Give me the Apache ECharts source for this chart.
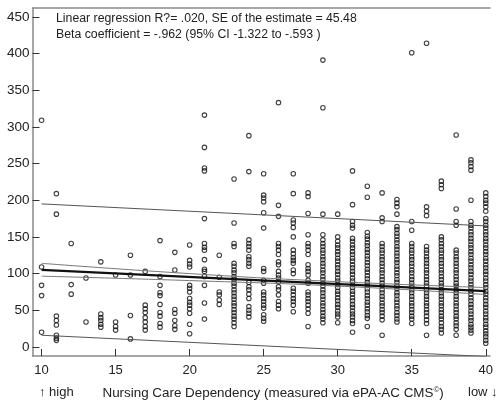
<!DOCTYPE html>
<html><head><meta charset="utf-8">
<script src="https://cdn.jsdelivr.net/npm/echarts@6/dist/echarts.min.js"></script>
<style>html,body{margin:0;padding:0;background:#fff}#c{width:496px;height:401px}</style>
</head><body><div id="c"></div>
<script>
// Observed values per nursing-care-dependency score (x)
const c10 = [309, 109, 84, 70, 20];
const c11 = [209, 181, 42, 36, 30, 16, 12, 9];
const c12 = [141, 85, 72];
const c13 = [94, 34];
const c14 = [116, 45, 40, 36, 31, 27];
const c15 = [98, 34, 28, 23];
const c16 = [125, 98, 43, 11];
const c17 = [103, 57, 52, 47, 40, 34, 28, 23];
const c18 = [145, 96, 84, 74, 70, 58, 47, 42, 32, 27];
const c19 = [129, 105, 51, 46, 36, 29, 24];
const c20 = [139, 118, 113, 109, 84, 80, 75, 66, 61, 57, 52, 46, 31, 18];
const c21 = [316, 272, 244, 240, 175, 141, 136, 132, 119, 106, 103, 96, 84, 60, 38];
const c22 = [125, 95, 75, 71, 64, 58];
const c23 = [229, 169, 141, 137, 114, 110, 105, 101, 96, 92, 87, 83, 78, 74, 69, 65, 60, 56, 51, 47, 42, 38, 33, 28];
const c24 = [288, 239, 146, 141, 137, 132, 123, 119, 114, 110, 88, 82, 78, 72, 66, 55, 50, 46, 41];
const c25 = [236, 207, 203, 198, 183, 162, 107, 103, 91, 87, 75, 71, 66, 62, 57, 53, 44, 39, 35];
const c26 = [333, 193, 178, 141, 137, 132, 126, 116, 112, 103, 98, 94, 89, 82, 78, 71, 62, 57, 52];
const c27 = [236, 209, 173, 169, 163, 150, 132, 127, 122, 118, 114, 105, 100, 80, 76, 71, 66, 62, 57, 48];
const c28 = [210, 205, 182, 153, 141, 137, 132, 126, 112, 107, 103, 98, 91, 87, 75, 71, 66, 62, 57, 52, 46, 28];
const c29 = [391, 326, 181, 153, 146, 141, 137, 132, 128, 123, 119, 114, 110, 105, 101, 96, 92, 87, 83, 78, 74, 69, 65, 60, 56, 51, 47, 42, 38, 33];
const c30 = [181, 150, 144, 139, 135, 130, 126, 121, 117, 112, 108, 103, 99, 94, 90, 85, 81, 76, 72, 67, 63, 58, 54, 49, 45, 41, 33];
const c31 = [240, 194, 171, 166, 162, 148, 144, 139, 135, 130, 126, 121, 117, 112, 108, 103, 99, 94, 90, 85, 81, 76, 72, 67, 63, 58, 54, 49, 45, 41, 36, 32, 20];
const c32 = [219, 204, 156, 151, 147, 142, 138, 133, 129, 124, 120, 115, 111, 106, 102, 97, 93, 88, 84, 79, 75, 70, 66, 61, 57, 52, 48, 43, 39, 28];
const c33 = [210, 176, 171, 141, 137, 132, 128, 123, 119, 114, 110, 105, 101, 96, 92, 87, 83, 78, 74, 69, 65, 60, 56, 51, 47, 42, 37, 16];
const c34 = [201, 196, 191, 181, 164, 160, 155, 151, 146, 142, 137, 133, 128, 124, 119, 115, 110, 106, 101, 97, 92, 88, 83, 79, 74, 70, 65, 61, 56, 52, 47, 43, 38, 34];
const c35 = [401, 171, 159, 141, 137, 132, 128, 123, 119, 114, 110, 105, 101, 96, 92, 87, 83, 78, 74, 69, 65, 60, 56, 51, 47, 42, 38, 32];
const c36 = [414, 191, 185, 179, 137, 132, 128, 123, 119, 114, 110, 105, 101, 96, 92, 87, 83, 78, 74, 69, 65, 60, 56, 51, 47, 42, 37, 32, 16];
const c37 = [226, 221, 216, 150, 146, 141, 137, 132, 128, 123, 119, 114, 110, 105, 101, 96, 92, 87, 83, 78, 74, 69, 65, 60, 56, 51, 47, 42, 38, 33, 28, 24, 19];
const c38 = [289, 188, 171, 166, 132, 128, 123, 119, 114, 110, 105, 101, 96, 92, 87, 83, 78, 74, 69, 65, 60, 56, 51, 47, 42, 38, 33, 29, 24, 16];
const c39 = [255, 251, 246, 241, 200, 171, 166, 162, 157, 153, 148, 144, 139, 135, 130, 126, 121, 117, 112, 108, 103, 99, 94, 90, 85, 81, 76, 72, 67, 63, 58, 54, 49, 45, 40, 36, 31, 27, 23, 19];
const c40 = [210, 205, 200, 196, 191, 185, 175, 171, 166, 162, 157, 153, 148, 144, 139, 135, 130, 126, 121, 117, 112, 108, 103, 99, 94, 90, 85, 81, 76, 72, 67, 63, 58, 54, 49, 45, 40, 36, 31, 27, 22, 18, 14, 9, 5];

const xScores = [10,11,12,13,14,15,16,17,18,19,20,21,22,23,24,25,26,27,28,29,30,31,32,33,34,35,36,37,38,39,40];
const columns = [c10,c11,c12,c13,c14,c15,c16,c17,c18,c19,c20,c21,c22,c23,c24,c25,c26,c27,c28,c29,c30,c31,c32,c33,c34,c35,c36,c37,c38,c39,c40];

// Regression line, 95% CI of mean and prediction interval
const fitLine = [[10, 105], [40, 76]];
const ciUpper = [[10, 114], [20, 100], [30, 89], [40, 81]];
const ciLower = [[10, 96.5], [20, 90.5], [30, 83], [40, 71.5]];
const piUpper = [[10, 195], [40, 165]];
const piLower = [[10, 16], [40, -13]];

const xTicks = [10, 15, 20, 25, 30, 35, 40];
const yTicks = [0, 50, 100, 150, 200, 250, 300, 350, 400, 450];

const points = [];
xScores.forEach((x, i) => columns[i].forEach(v => points.push([x, v])));

const FONT = 'Liberation Sans, Arial, sans-serif';
const X_MIN = 9.387, X_MAX = 40.287;
const chart = echarts.init(document.getElementById('c'), null, {renderer: 'canvas'});
chart.setOption({
  animation: false,
  backgroundColor: '#fff',
  grid: {left: 32.5, top: 8, right: 0, height: 348, show: false},
  xAxis: [{
    type: 'value', min: X_MIN, max: X_MAX,
    axisLine: {show: true, onZero: false, lineStyle: {color: '#8a8a8a', width: 1.5}},
    axisTick: {show: true, inside: true, length: 7, customValues: xTicks, lineStyle: {color: '#333', width: 1}},
    axisLabel: {customValues: xTicks, color: '#222', fontSize: 13, fontFamily: FONT, margin: 8},
    splitLine: {show: false}
  }, {
    type: 'value', position: 'top', min: X_MIN, max: X_MAX,
    axisLine: {show: true, onZero: false, lineStyle: {color: '#8a8a8a', width: 1.5}},
    axisTick: {show: false}, axisLabel: {show: false}, splitLine: {show: false}
  }],
  yAxis: {
    type: 'value', min: -12.3, max: 462,
    axisLine: {show: true, onZero: false, lineStyle: {color: '#8a8a8a', width: 1.5}},
    axisTick: {show: true, inside: true, length: 7, customValues: yTicks, lineStyle: {color: '#333', width: 1}},
    axisLabel: {customValues: yTicks, color: '#222', fontSize: 13.5, fontFamily: FONT, margin: 3},
    splitLine: {show: false}
  },
  series: [
    {type: 'scatter', data: points, symbol: 'circle', symbolSize: 4.5,
     itemStyle: {color: 'rgba(0,0,0,0)', borderColor: '#111', borderWidth: 1.1}, z: 2},
    {type: 'line', data: piUpper, showSymbol: false, lineStyle: {color: '#555', width: 1}, z: 3},
    {type: 'line', data: piLower, showSymbol: false, lineStyle: {color: '#555', width: 1}, z: 3},
    {type: 'line', data: ciUpper, smooth: true, showSymbol: false, lineStyle: {color: '#777', width: 1}, z: 3},
    {type: 'line', data: ciLower, smooth: true, showSymbol: false, lineStyle: {color: '#777', width: 1}, z: 3},
    {type: 'line', data: fitLine, showSymbol: false, lineStyle: {color: '#111', width: 2.2}, z: 4}
  ],
  graphic: [
    {type: 'text', left: 56, top: 13, style: {text: 'Linear regression R?= .020, SE of the estimate = 45.48', fill: '#222', font: '12.3px ' + FONT}},
    {type: 'text', left: 56, top: 28.5, style: {text: 'Beta coefficient = -.962 (95% CI -1.322 to -.593 )', fill: '#222', font: '12.3px ' + FONT}},
    {type: 'text', left: 39, top: 386, style: {text: '\u2191 high', fill: '#222', font: '13px ' + FONT}},
    {type: 'text', left: 102.5, top: 386, style: {
      text: '{a|Nursing Care Dependency (measured via ePA-AC CMS}{s|\u00a9}{a|)}',
      rich: {a: {fill: '#222', font: '13.4px ' + FONT}, s: {fill: '#222', font: '8px ' + FONT, verticalAlign: 'top', padding: [0, 0, 6, 0]}}}},
    {type: 'text', left: 468, top: 386, style: {text: 'low \u2193', fill: '#222', font: '13px ' + FONT}}
  ]
});
</script></body></html>
